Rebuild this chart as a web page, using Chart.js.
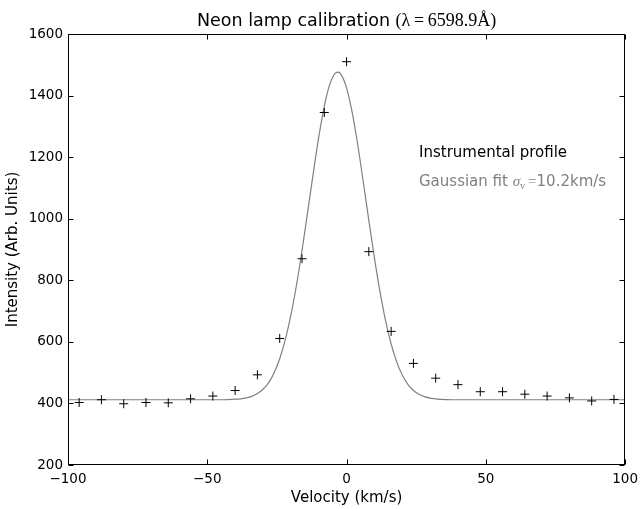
<!DOCTYPE html>
<html lang="en">
<head>
    <meta charset="UTF-8">
    <title>Neon lamp calibration</title>
    <script src="https://cdn.jsdelivr.net/npm/chart.js"></script>
    <style>
        html, body { margin: 0; padding: 0; background: white; }
        #wrap { width: 644px; height: 509px; }
    </style>
</head>
<body>
    <div id="wrap">
        <canvas id="myChartCanvas"></canvas>
    </div>

<script>
    // measured points (velocity in km/s, intensity in arb. units)
    const velocity = [-96, -88, -80, -72, -64, -56, -48, -40, -32, -24, -16, -8, 0,
        8, 16, 24, 32, 40, 48, 56, 64, 72, 80, 88, 96];
    const intensity = [403, 412, 399, 403, 402, 415, 424, 442, 493, 611, 870, 1345, 1510,
        893, 634, 530, 482, 461, 438, 438, 430, 424, 418, 408, 413];

    // gaussian fit curve
    const fitVelocity = [-100, -60, -44, -40, -38, -36, -34, -32, -30, -28, -26, -24, -22, -20,
        -18, -16, -14, -12, -10, -8, -6, -4, -3, -2, 0, 2, 4, 6, 8, 10, 12, 14, 16, 18, 20,
        22, 24, 26, 28, 30, 32, 34, 38, 50, 100];
    const fitIntensity = [412, 412, 412, 414, 415, 418, 423, 432, 446, 467, 500, 545, 607, 686,
        783, 896, 1020, 1145, 1264, 1365, 1437, 1473, 1476, 1469, 1425, 1346, 1241, 1120, 994, 873, 763, 669, 593, 535, 492,
        462, 442, 430, 422, 417, 415, 413, 412, 412, 412];

    const xTicks = [-100, -50, 0, 50, 100];
    const yTicks = [200, 400, 600, 800, 1000, 1200, 1400, 1600];

    const sans = "'DejaVu Sans', sans-serif";
    const serif = "'Liberation Serif', 'DejaVu Serif', serif";

    // frame, inward ticks on all four sides, title and text legend
    const moldura = {
        id: 'moldura',
        afterDraw(chart) {
            const { ctx, chartArea: a, scales: { x, y } } = chart;
            const L = Math.round(a.left) + 0.5, R = Math.round(a.right) - 0.5;
            const T = Math.round(a.top) + 0.5, B = Math.round(a.bottom) - 0.5;
            ctx.save();
            ctx.strokeStyle = 'black';
            ctx.lineWidth = 1;
            ctx.strokeRect(L, T, R - L, B - T);

            ctx.beginPath();
            x.ticks.forEach(t => {
                const px = Math.round(x.getPixelForValue(t.value)) + 0.5;
                ctx.moveTo(px, B); ctx.lineTo(px, B - 5);
                ctx.moveTo(px, T); ctx.lineTo(px, T + 5);
            });
            y.ticks.forEach(t => {
                const py = Math.round(y.getPixelForValue(t.value)) + 0.5;
                ctx.moveTo(L, py); ctx.lineTo(L + 5, py);
                ctx.moveTo(R, py); ctx.lineTo(R - 5, py);
            });
            ctx.stroke();

            // titulo: texto normal + parte matematica
            ctx.textBaseline = 'alphabetic';
            ctx.textAlign = 'left';
            const parte1 = 'Neon lamp calibration ';
            const parte2 = '(\u03bb\u2009=\u20096598.9\u00c5)';
            ctx.font = '17.5px ' + sans;
            const w1 = ctx.measureText(parte1).width;
            ctx.font = '18px ' + serif;
            const w2 = ctx.measureText(parte2).width;
            let tx = (a.left + a.right) / 2 - (w1 + w2) / 2;
            ctx.fillStyle = 'black';
            ctx.font = '17.5px ' + sans;
            ctx.fillText(parte1, tx, 26);
            ctx.font = '18px ' + serif;
            ctx.fillText(parte2, tx + w1, 26);

            // legenda sem simbolos
            const lx = 419;
            ctx.font = '15px ' + sans;
            ctx.fillStyle = 'black';
            ctx.fillText('Instrumental profile', lx, 157);

            ctx.fillStyle = 'gray';
            let cx = lx;
            ctx.fillText('Gaussian fit ', cx, 186);
            cx += ctx.measureText('Gaussian fit ').width;
            ctx.font = 'italic 15px ' + serif;
            ctx.fillText('\u03c3', cx, 186);
            cx += ctx.measureText('\u03c3').width;
            ctx.font = '10px ' + serif;
            ctx.fillText('v', cx, 189);
            cx += ctx.measureText('v').width + 3;
            ctx.font = '15px ' + serif;
            ctx.fillText('=', cx, 186);
            cx += ctx.measureText('=').width;
            ctx.font = '15px ' + sans;
            ctx.fillText('10.2km/s', cx, 186);
            ctx.restore();
        }
    };

    const dados = {
        datasets: [{
            label: 'Instrumental profile',
            data: velocity.map((v, i) => ({ x: v, y: intensity[i] })),
            showLine: false,
            pointStyle: 'cross',
            pointRadius: 4.5,
            pointBorderWidth: 1,
            borderColor: 'black',
            backgroundColor: 'black'
        },
        {
            label: 'Gaussian fit',
            data: fitVelocity.map((v, i) => ({ x: v, y: fitIntensity[i] })),
            showLine: true,
            pointRadius: 0,
            borderColor: 'gray',
            borderWidth: 1.2,
            cubicInterpolationMode: 'monotone'
        }]
    };

    const config = {
        type: 'scatter',
        data: dados,
        options: {
            responsive: false,
            animation: false,
            layout: { padding: { top: 34, right: 16, left: 0, bottom: 0 } },
            plugins: {
                legend: { display: false },
                title: { display: false },
                tooltip: { enabled: false }
            },
            scales: {
                x: {
                    type: 'linear',
                    min: -100,
                    max: 100,
                    afterBuildTicks: s => { s.ticks = xTicks.map(v => ({ value: v })); },
                    afterFit: s => { s.height = 44; },
                    grid: { display: false, drawTicks: false },
                    border: { display: false },
                    ticks: {
                        color: 'black',
                        padding: 6,
                        font: { family: sans, size: 13.5 },
                        callback: v => String(v).replace('-', '\u2212')
                    },
                    title: {
                        display: true,
                        text: 'Velocity (km/s)',
                        color: 'black',
                        font: { family: sans, size: 15 },
                        padding: { top: 0, bottom: 2 }
                    }
                },
                y: {
                    type: 'linear',
                    min: 200,
                    max: 1600,
                    afterBuildTicks: s => { s.ticks = yTicks.map(v => ({ value: v })); },
                    afterFit: s => { s.width = 68; },
                    grid: { display: false, drawTicks: false },
                    border: { display: false },
                    ticks: {
                        color: 'black',
                        padding: 5,
                        font: { family: sans, size: 13.5 },
                        callback: v => String(v)
                    },
                    title: {
                        display: true,
                        text: 'Intensity (Arb. Units)',
                        color: 'black',
                        font: { family: sans, size: 15 },
                        padding: { top: 4, bottom: 0 }
                    }
                }
            }
        },
        plugins: [moldura]
    };

    const canvas = document.getElementById('myChartCanvas');
    canvas.width = 644;
    canvas.height = 509;
    let myChart = new Chart(canvas, config);
</script>
</body>
</html>
